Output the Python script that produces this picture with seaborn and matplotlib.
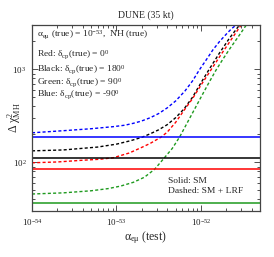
import numpy as np
import pandas as pd
import matplotlib
matplotlib.use("Agg")
import matplotlib.pyplot as plt
import seaborn as sns
from matplotlib.ticker import LogLocator, NullFormatter

# ---- data ----
blue_x = [1.0e-54, 2.34e-54, 5.01e-54, 9.12e-54, 1.26e-53, 1.58e-53, 1.95e-53, 2.51e-53, 3.16e-53, 3.98e-53,
          5.01e-53, 6.46e-53, 7.94e-53, 9.55e-53, 1.15e-52, 1.38e-52, 1.66e-52, 2.0e-52, 2.29e-52, 2.63e-52]
blue_y = [208, 219, 230, 242, 251, 263, 277, 302, 335, 385,
          457, 585, 750, 984, 1259, 1614, 1995, 2399, 2723, 3020]

black_x = [1.0e-54, 2.34e-54, 5.94e-54, 1.0e-53, 1.47e-53, 2.0e-53, 2.54e-53, 3.16e-53, 3.98e-53,
           5.01e-53, 6.31e-53, 7.94e-53, 1.0e-52, 1.26e-52, 1.65e-52, 2.17e-52, 2.86e-52]
black_y = [133, 136, 146, 157, 171, 186, 204, 224, 254,
           302, 376, 501, 716, 1012, 1489, 2158, 3000]

red_x = [1.0e-54, 2.0e-54, 3.72e-54, 6.31e-54, 9.12e-54, 1.41e-53, 1.93e-53, 2.51e-53, 3.34e-53,
         3.98e-53, 5.01e-53, 6.31e-53, 7.94e-53, 1.0e-52, 1.21e-52, 1.73e-52, 2.28e-52, 2.99e-52]
red_y = [99, 101, 105, 108, 112, 126, 143, 160, 186,
         211, 269, 363, 484, 676, 881, 1445, 2089, 3000]

green_x = [1.0e-54, 2.34e-54, 5.01e-54, 7.94e-54, 1.12e-53, 1.58e-53, 2.14e-53, 2.82e-53, 3.63e-53, 4.57e-53,
           5.62e-53, 6.92e-53, 8.32e-53, 1.0e-52, 1.23e-52, 1.51e-52, 1.82e-52, 2.17e-52, 2.86e-52, 3.44e-52]
green_y = [45.7, 47.0, 49.5, 52.2, 55.6, 61.0, 69.2, 84.1, 110, 141,
           189, 269, 367, 501, 708, 984, 1288, 1641, 2344, 3000]

sm_labels = ["blue", "black", "red", "green"]
sm_values = [189, 112, 84, 36.3]

xlim = (1e-54, 5e-52)
ylim = (30, 3000)
x_major = [1e-54, 1e-53, 1e-52]
y_major = [1e2, 1e3]

colors = {"blue": "#0000ff", "black": "#000000", "red": "#ff0000", "green": "#1e9a1e"}

# ---- style ----
sns.set_style("ticks")
plt.rcParams["font.family"] = ["Liberation Serif", "DejaVu Serif"]
plt.rcParams["mathtext.fontset"] = "custom"
plt.rcParams["mathtext.rm"] = "Liberation Serif"
plt.rcParams["mathtext.it"] = "Liberation Serif:italic"
plt.rcParams["mathtext.bf"] = "Liberation Serif:bold"

fig = plt.figure(figsize=(2.74, 2.57), dpi=100)
ax = fig.add_axes([32/274, 1-211/257, 228/274, 186/257])

frames = []
for name, xs, ys in [("blue", blue_x, blue_y), ("black", black_x, black_y),
                     ("red", red_x, red_y), ("green", green_x, green_y)]:
    frames.append(pd.DataFrame({"x": xs, "y": ys, "case": name}))
dashed = pd.concat(frames, ignore_index=True)

for name in ["blue", "black", "red", "green"]:
    sub = dashed[dashed["case"] == name]
    sns.lineplot(data=sub, x="x", y="y", ax=ax, color=colors[name], lw=1.0,
                 sort=False, estimator=None)
    ax.lines[-1].set_dashes((2.2, 1.6))

solid = pd.DataFrame({"case": sm_labels, "val": sm_values})
for _, r in solid.iterrows():
    sns.lineplot(x=list(xlim), y=[r["val"], r["val"]], ax=ax, color=colors[r["case"]], lw=1.1)

ax.set_xscale("log")
ax.set_yscale("log")
ax.set_xlim(*xlim)
ax.set_ylim(*ylim)

ax.set_xticks(x_major)
ax.set_yticks(y_major)
ax.xaxis.set_minor_locator(LogLocator(base=10, subs=np.arange(2, 10), numticks=20))
ax.xaxis.set_minor_formatter(NullFormatter())
ax.yaxis.set_minor_locator(LogLocator(base=10, subs=np.arange(2, 10), numticks=20))
ax.yaxis.set_minor_formatter(NullFormatter())

ax.tick_params(which="both", direction="in", top=True, right=True, colors="#333333",
               labelcolor="#222222", labelsize=6.5, width=0.6)
ax.tick_params(which="major", length=4, pad=4)
ax.tick_params(which="minor", length=2)
for s in ax.spines.values():
    s.set_color("#444444")
    s.set_linewidth(0.9)

ax.set_xlabel(r"$\mathrm{α}_{\mathrm{eμ}}$ (test)", fontsize=8.5)
ax.set_ylabel(r"Δ $\mathrm{χ}^2_{\mathrm{MH}}$", fontsize=8.5)
ax.xaxis.set_label_coords(0.5, -0.145)
ax.yaxis.set_label_coords(-0.08, 0.5)
ax.xaxis.label.set_va("center")
ax.yaxis.label.set_va("center")
ax.set_title("DUNE (35 kt)", fontsize=7, pad=5)

kw = dict(transform=ax.transAxes, fontsize=6.8, va="center", ha="left")
ax.text(0.02, 0.950, r"$\mathrm{α}_{\mathrm{eμ}}$ (true) = 10$^{-53}$,  NH (true)", **kw)
ax.text(0.02, 0.842, r"Red: $\mathrm{δ}_{\mathrm{cp}}$(true) = 0$^0$", **kw)
ax.text(0.02, 0.762, r"Black: $\mathrm{δ}_{\mathrm{cp}}$(true) = 180$^0$", **kw)
ax.text(0.02, 0.693, r"Green: $\mathrm{δ}_{\mathrm{cp}}$(true) = 90$^0$", **kw)
ax.text(0.02, 0.624, r"Blue: $\mathrm{δ}_{\mathrm{cp}}$(true) = -90$^0$", **kw)
ax.text(0.596, 0.161, "Solid: SM", **kw)
ax.text(0.596, 0.108, "Dashed: SM + LRF", **kw)

if ax.get_legend() is not None:
    ax.get_legend().remove()

fig.savefig("out.png", dpi=100)
